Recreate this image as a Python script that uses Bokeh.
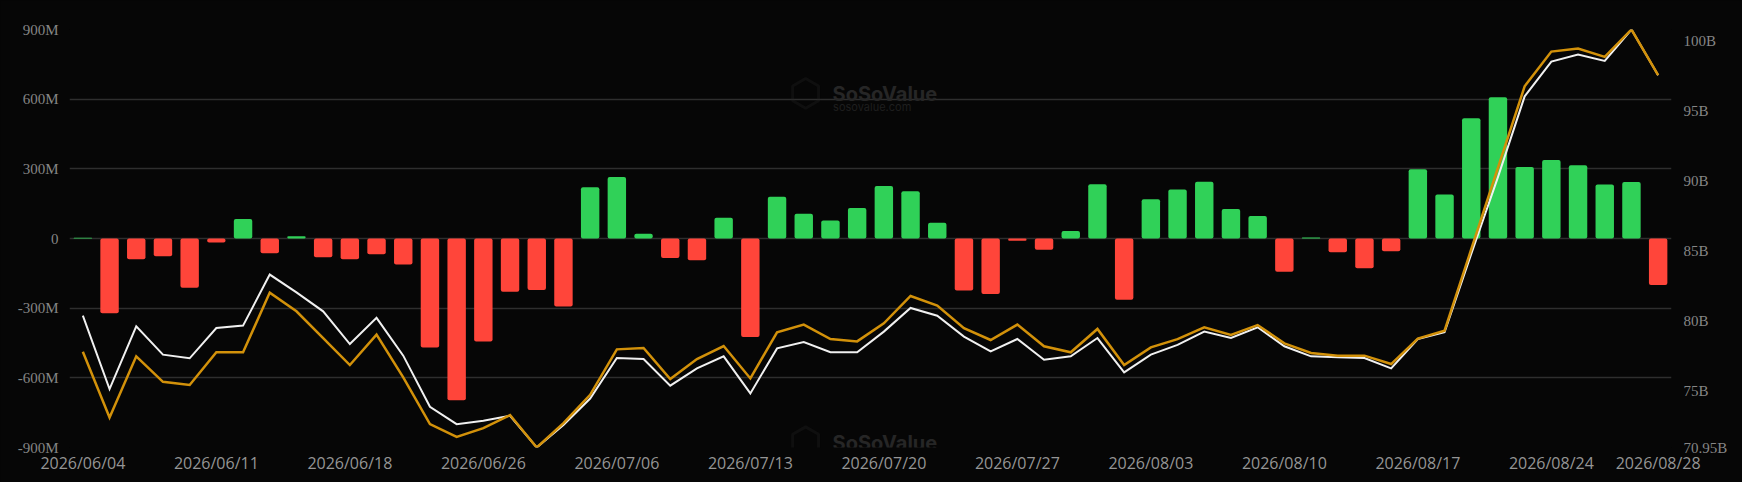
import numpy as np
from bokeh.plotting import figure
from bokeh.models import (Range1d, LinearAxis, FixedTicker, CustomJSTickFormatter,
                          ColumnDataSource, Label, PolyAnnotation)
from bokeh.embed import file_html
from bokeh.resources import INLINE

# ---------------- data ----------------
dates = [
    "2026/06/04", "2026/06/05", "2026/06/08", "2026/06/09", "2026/06/10", "2026/06/11",
    "2026/06/12", "2026/06/15", "2026/06/16", "2026/06/17", "2026/06/18", "2026/06/22",
    "2026/06/23", "2026/06/24", "2026/06/25", "2026/06/26", "2026/06/29", "2026/06/30",
    "2026/07/01", "2026/07/02", "2026/07/06", "2026/07/07", "2026/07/08", "2026/07/09",
    "2026/07/10", "2026/07/13", "2026/07/14", "2026/07/15", "2026/07/16", "2026/07/17",
    "2026/07/20", "2026/07/21", "2026/07/22", "2026/07/23", "2026/07/24", "2026/07/27",
    "2026/07/28", "2026/07/29", "2026/07/30", "2026/07/31", "2026/08/03", "2026/08/04",
    "2026/08/05", "2026/08/06", "2026/08/07", "2026/08/10", "2026/08/11", "2026/08/12",
    "2026/08/13", "2026/08/14", "2026/08/17", "2026/08/18", "2026/08/19", "2026/08/20",
    "2026/08/21", "2026/08/24", "2026/08/25", "2026/08/26", "2026/08/27", "2026/08/28",
]

# daily net inflow, millions USD (bars, left axis)
net_inflow_m = [
    3, -322, -89, -76, -212, -17, 84, -63, 10, -81,
    -89, -68, -112, -469, -697, -444, -229, -222, -293, 221,
    265, 20, -84, -94, 89, -424, 180, 107, 78, 131,
    226, 203, 68, -224, -239, -10, -48, 32, 234, -264,
    169, 211, 244, 127, 97, -143, 4, -59, -128, -55,
    298, 190, 518, 608, 308, 338, 315, 233, 243, -200,
]

# white line, billions USD (right axis)
white_line_b = [
    80.38, 75.13, 79.62, 77.59, 77.33, 79.50, 79.67, 83.32, 82.05, 80.69,
    78.35, 80.22, 77.52, 73.86, 72.62, 72.86, 73.22, 70.95, 72.55, 74.45,
    77.35, 77.28, 75.37, 76.61, 77.47, 74.82, 78.04, 78.50, 77.76, 77.76,
    79.24, 80.93, 80.38, 78.88, 77.83, 78.71, 77.23, 77.47, 78.78, 76.32,
    77.59, 78.29, 79.24, 78.78, 79.55, 78.19, 77.47, 77.40, 77.35, 76.61,
    78.71, 79.20, 84.80, 90.29, 96.07, 98.55, 99.06, 98.60, 100.85, 97.58,
]

# orange line, billions USD (right axis)
orange_line_b = [
    77.80, 73.10, 77.47, 75.65, 75.42, 77.76, 77.76, 82.03, 80.69, 78.78,
    76.85, 79.02, 75.96, 72.62, 71.71, 72.34, 73.27, 70.95, 72.69, 74.72,
    77.97, 78.07, 75.85, 77.28, 78.21, 75.89, 79.19, 79.74, 78.71, 78.54,
    79.83, 81.79, 81.10, 79.48, 78.64, 79.74, 78.19, 77.76, 79.43, 76.85,
    78.11, 78.70, 79.55, 79.00, 79.71, 78.40, 77.71, 77.52, 77.52, 76.92,
    78.74, 79.31, 85.13, 90.96, 96.79, 99.27, 99.49, 98.89, 100.85, 97.58,
]

left_ticks = [-900, -600, -300, 0, 300, 600, 900]
right_ticks = [70.95, 75, 80, 85, 90, 95, 100]

# ---------------- style ----------------
BG = "#060606"
GREEN = "#30d158"
RED = "#ff453a"
ORANGE = "#d2910a"
WHITE = "#f0f0f0"
GRID = "#2e2e2e"
WM = "#262626"

x = list(range(len(dates)))
colors = [GREEN if v >= 0 else RED for v in net_inflow_m]
src = ColumnDataSource(dict(x=x, top=net_inflow_m, color=colors,
                            white=white_line_b, orange=orange_line_b))

p = figure(width=1742, height=482, output_backend="svg", toolbar_location=None,
           x_range=Range1d(-0.5, len(dates) - 0.5),
           y_range=Range1d(left_ticks[0], left_ticks[-1]),
           min_border_left=69, min_border_right=71, min_border_top=29, min_border_bottom=35)
p.background_fill_color = BG
p.border_fill_color = BG
p.outline_line_color = None

all_line = white_line_b + orange_line_b
p.extra_y_ranges = {"right": Range1d(min(all_line), max(all_line))}

# grid
p.xgrid.grid_line_color = None
p.ygrid.grid_line_color = GRID
p.ygrid.grid_line_width = 1.5
p.ygrid.ticker = FixedTicker(ticks=left_ticks)

# left axis
la = p.yaxis[0]
la.ticker = FixedTicker(ticks=left_ticks)
la.formatter = CustomJSTickFormatter(code="return tick == 0 ? '0' : tick + 'M';")
la.axis_line_color = None
la.major_tick_line_color = None
la.minor_tick_line_color = None
la.major_tick_out = 0
la.major_tick_in = 0
la.major_label_standoff = 11
la.major_label_text_font = "Liberation Serif"
la.major_label_text_font_size = "15px"
la.major_label_text_color = "#858585"

# bottom axis
xa = p.xaxis[0]
tick_idx = list(range(0, len(dates), 5)) + [len(dates) - 1]
xa.ticker = FixedTicker(ticks=tick_idx)
xa.major_label_overrides = {i: dates[i] for i in tick_idx}
xa.axis_line_color = None
xa.major_tick_line_color = None
xa.minor_tick_line_color = None
xa.major_tick_out = 0
xa.major_tick_in = 0
xa.major_label_standoff = 4
xa.major_label_text_font = "Open Sans"
xa.major_label_text_font_size = "16px"
xa.major_label_text_color = "#959595"

# right axis
ra = LinearAxis(y_range_name="right", ticker=FixedTicker(ticks=right_ticks),
                formatter=CustomJSTickFormatter(code="return tick + 'B';"))
ra.axis_line_color = None
ra.major_tick_line_color = None
ra.minor_tick_line_color = None
ra.major_tick_out = 0
ra.major_tick_in = 0
ra.major_label_standoff = 12
ra.major_label_text_font = "Liberation Serif"
ra.major_label_text_font_size = "15px"
ra.major_label_text_color = "#858585"
p.add_layout(ra, "right")

# watermarks (decoration)
for dy in (0, -1500):
    cx, cy = 27.07, 625 + dy
    ang = np.deg2rad(90 + 60 * np.arange(6))
    p.add_layout(PolyAnnotation(xs=list(cx + 0.56 * np.cos(ang)), ys=list(cy + 64 * np.sin(ang)),
                                fill_alpha=0, line_color=WM, line_width=3))
    p.add_layout(Label(x=28.08, y=621 + dy, text="SoSoValue", text_font="Inter",
                       text_font_style="bold", text_font_size="20px", text_color=WM,
                       text_baseline="alphabetic"))
    p.add_layout(Label(x=28.1, y=565 + dy, text="sosovalue.com", text_font="Inter",
                       text_font_size="11px", text_color="#1f1f1f", text_baseline="alphabetic"))

# bars and lines
p.vbar(x="x", top="top", bottom=0, width=0.69, fill_color="color", line_color=None,
       border_radius=2, source=src)
p.line("x", "white", source=src, y_range_name="right", line_color=WHITE, line_width=2,
       line_join="miter")
p.line("x", "orange", source=src, y_range_name="right", line_color=ORANGE, line_width=2.5,
       line_join="miter")

html = file_html(p, INLINE)
html = html.replace("<head>", "<head><style>body{background:#060606;}</style>", 1)
open("out.html", "w").write(html)
